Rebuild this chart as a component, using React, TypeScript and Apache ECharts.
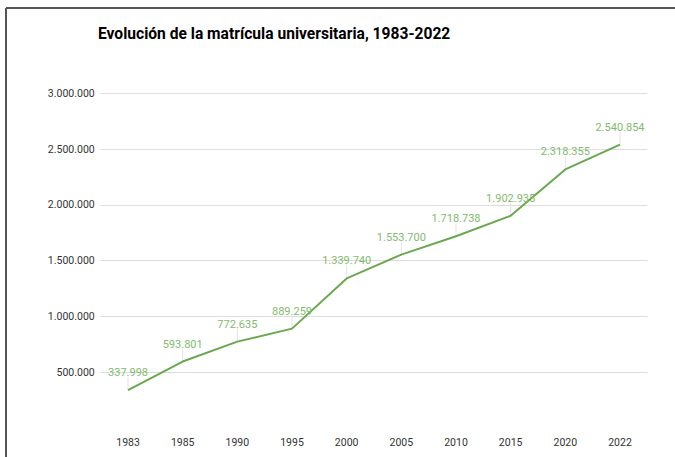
import React, { useEffect, useRef } from "react";
import * as echarts from "echarts";

const years = ["1983", "1985", "1990", "1995", "2000", "2005", "2010", "2015", "2020", "2022"];
const enrollment = [337998, 593801, 772635, 889259, 1339740, 1553700, 1718738, 1902935, 2318355, 2540854];
const titleText = "Evolución de la matrícula universitaria, 1983-2022";

const fmt = (v: number) => Math.round(v).toString().replace(/\B(?=(\d{3})+(?!\d))/g, ".");

export default function App() {
  const ref = useRef<HTMLDivElement>(null);
  useEffect(() => {
    if (!ref.current) return;
    const chart = echarts.init(ref.current, null, { renderer: "svg" });
    const font = "Roboto, 'Noto Sans', sans-serif";
    chart.setOption({
      animation: false,
      backgroundColor: "#ffffff",
      textStyle: { fontFamily: font },
      title: {
        text: titleText,
        left: 93,
        top: 21,
        textStyle: { fontFamily: font, fontSize: 15.6, fontWeight: "bold", color: "#000000" },
      },
      graphic: [
        { type: "line", shape: { x1: 6, y1: 8, x2: 675, y2: 8 }, style: { stroke: "#555555", lineWidth: 2 } },
        { type: "line", shape: { x1: 6, y1: 8, x2: 6, y2: 457 }, style: { stroke: "#555555", lineWidth: 2 } },
      ],
      grid: { left: 100.7, right: 27.7, top: 93.5, bottom: 29.3, containLabel: false },
      xAxis: {
        type: "category",
        data: years,
        boundaryGap: true,
        axisLine: { show: false },
        axisTick: { show: false },
        axisLabel: { color: "#333333", fontSize: 10.5, margin: 9, fontFamily: font },
        splitLine: { show: false },
      },
      yAxis: {
        type: "value",
        min: 0,
        max: 3000000,
        interval: 500000,
        axisLine: { show: false },
        axisTick: { show: false },
        axisLabel: {
          color: "#333333",
          fontSize: 10.5,
          margin: 6,
          fontFamily: font,
          showMinLabel: false,
          formatter: (v: number) => fmt(v),
        },
        splitLine: { show: true, showMinLine: false, lineStyle: { color: "#dddddd", width: 1 } },
      },
      series: [
        {
          type: "custom",
          z: 1,
          silent: true,
          data: enrollment.map((v, i) => [i, v]),
          renderItem: (params: any, api: any) => {
            const p = api.coord([api.value(0), api.value(1)]);
            return {
              type: "line",
              shape: { x1: p[0], y1: p[1], x2: p[0], y2: p[1] - 13 },
              style: { stroke: "#e3e3e3", lineWidth: 1 },
            };
          },
        },
        {
          type: "line",
          z: 2,
          data: enrollment,
          symbol: "circle",
          symbolSize: 0,
          showSymbol: true,
          lineStyle: { color: "#6aa84f", width: 2 },
          itemStyle: { color: "#6aa84f" },
          label: {
            show: true,
            position: "top",
            distance: 12,
            color: "#82bb6e",
            fontSize: 11,
            fontFamily: font,
            formatter: (p: any) => fmt(p.value),
          },
        },
      ],
    });
    return () => chart.dispose();
  }, []);
  return <div ref={ref} style={{ position: "fixed", left: 0, top: 0, width: 675, height: 457 }} />;
}
